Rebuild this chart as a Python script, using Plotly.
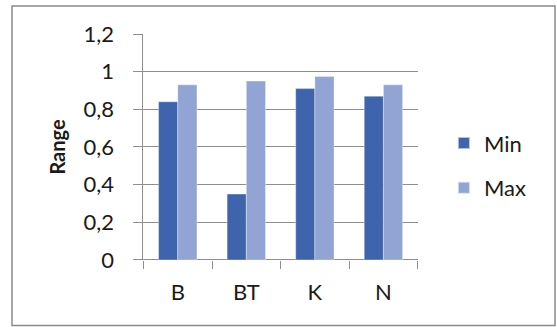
import plotly.graph_objects as go

# Chart data
categories = ["B", "BT", "K", "N"]
min_values = [0.84, 0.35, 0.91, 0.87]
max_values = [0.93, 0.95, 0.975, 0.93]
y_tick_values = [0, 0.2, 0.4, 0.6, 0.8, 1.0, 1.2]
y_tick_labels = ["0", "0,2", "0,4", "0,6", "0,8", "1", "1,2"]

MIN_COLOR = "#3D64AD"
MAX_COLOR = "#91A4D4"
GRID_COLOR = "#8E8E8E"
FONT = "Lato, 'Open Sans', sans-serif"

fig = go.Figure()
fig.add_trace(go.Bar(
    x=categories, y=min_values, name="Min", legendgroup="min",
    marker=dict(color=MIN_COLOR, line=dict(color="rgba(255,255,255,0.6)", width=0.6)),
))
fig.add_trace(go.Bar(
    x=categories, y=max_values, name="Max", legendgroup="max",
    marker=dict(color=MAX_COLOR, line=dict(color="rgba(255,255,255,0.6)", width=0.6)),
))

fig.update_layout(
    width=557, height=327,
    margin=dict(l=0, r=0, t=0, b=0, pad=0, autoexpand=False),
    paper_bgcolor="white", plot_bgcolor="white",
    barmode="group", bargap=0.44, bargroupgap=0,
    font=dict(family=FONT, size=22, color="#1a1a1a"),
    showlegend=True,
    legend=dict(
        x=0.797, y=0.493, xanchor="left", yanchor="middle",
        font=dict(family=FONT, size=22, color="#1a1a1a"),
        itemsizing="constant", tracegroupgap=13, itemwidth=30,
        bgcolor="rgba(0,0,0,0)",
    ),
    xaxis=dict(
        domain=[0.2576, 0.7499],
        showgrid=False, showline=False, zeroline=False,
        ticks="outside", tickson="boundaries", ticklen=8,
        tickcolor=GRID_COLOR, tickwidth=1,
        tickfont=dict(family=FONT, size=22),
        ticklabelstandoff=17, automargin=False,
    ),
    yaxis=dict(
        domain=[0.2049, 0.896],
        range=[0, 1.2],
        tickvals=y_tick_values, ticktext=y_tick_labels,
        showgrid=True, gridcolor=GRID_COLOR, gridwidth=1,
        showline=True, linecolor=GRID_COLOR, linewidth=1,
        zeroline=True, zerolinecolor=GRID_COLOR, zerolinewidth=1,
        ticks="outside", ticklen=9, tickcolor=GRID_COLOR, tickwidth=1,
        tickfont=dict(family=FONT, size=22),
        ticklabelstandoff=15, automargin=False,
        title=dict(text="<b>Range</b>", font=dict(family=FONT, size=20), standoff=12),
    ),
    shapes=[
        # outer chart frame
        dict(type="rect", xref="paper", yref="paper",
             x0=12 / 557, x1=555 / 557, y0=1.5 / 327, y1=321 / 327,
             line=dict(color="#8A8A8A", width=1.5), fillcolor="rgba(0,0,0,0)",
             layer="below"),
    ],
)

fig.write_html("out.html")
